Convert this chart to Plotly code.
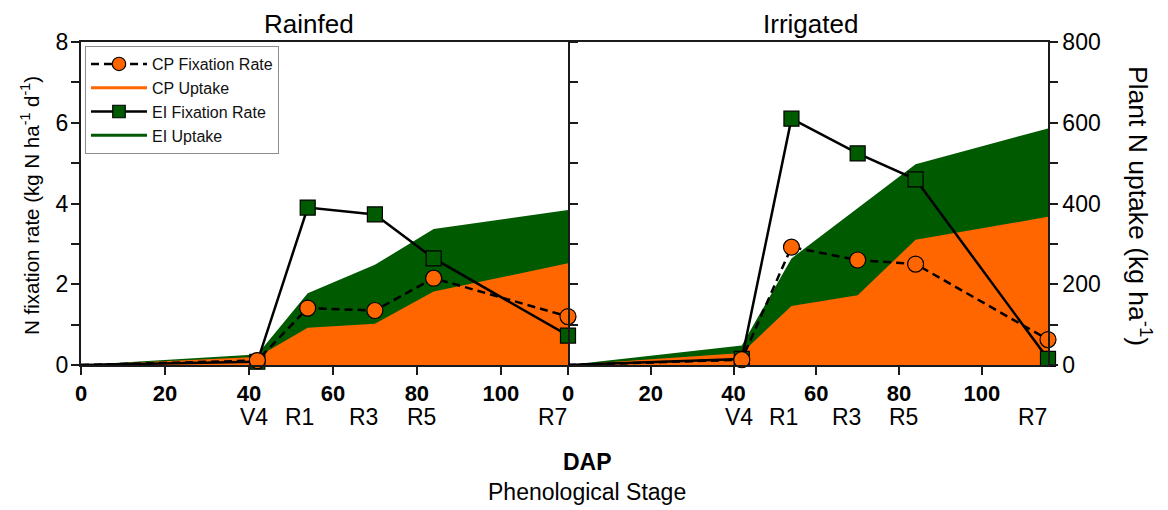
import plotly.graph_objects as go

# Days after planting at each sampling date
dap = [0, 42, 54, 70, 84, 116]
stage_days = [42, 54, 70, 84, 116]
stage_names = ["V4", "R1", "R3", "R5", "R7"]

# Rainfed: fixation rate (kg N ha-1 d-1) and plant N uptake (kg ha-1)
rain_cp_fix = [0, 0.11, 1.41, 1.35, 2.15, 1.20]
rain_ei_fix = [0, 0.08, 3.90, 3.73, 2.64, 0.73]
rain_cp_up = [0, 20, 92, 102, 182, 252]
rain_ei_up = [0, 26, 178, 248, 337, 384]

# Irrigated
irr_cp_fix = [0, 0.13, 2.92, 2.60, 2.50, 0.63]
irr_ei_fix = [0, 0.15, 6.10, 5.24, 4.60, 0.15]
irr_cp_up = [0, 30, 146, 173, 310, 367]
irr_ei_up = [0, 48, 264, 389, 497, 586]

W, H = 1168, 510
FONT = "Liberation Sans, Arial, sans-serif"
ORANGE = "#FF6600"
GREEN = "#005A00"
AX = "#1a1a1a"


def px(x):
    return x / W


def py(y):
    return 1 - y / H


left_dom = [px(81), px(568)]
right_dom = [px(568), px(1048)]
y_dom = [py(365), py(42)]

# no marker on the planting-day point
circle_sizes = [0] + [16] * (len(dap) - 1)
square_sizes = [0] + [15] * (len(dap) - 1)

fig = go.Figure()

# Uptake areas (base axes): EI first, CP drawn over it
for xa, ya, ei_up, cp_up in (("x", "y", rain_ei_up, rain_cp_up),
                              ("x2", "y2", irr_ei_up, irr_cp_up)):
    fig.add_trace(go.Scatter(x=dap, y=ei_up, xaxis=xa, yaxis=ya, mode="lines",
                             line=dict(width=0, color=GREEN), fill="tozeroy",
                             fillcolor=GREEN, showlegend=False, hoverinfo="skip"))
    fig.add_trace(go.Scatter(x=dap, y=cp_up, xaxis=xa, yaxis=ya, mode="lines",
                             line=dict(width=0, color=ORANGE), fill="tozeroy",
                             fillcolor=ORANGE, showlegend=False, hoverinfo="skip"))

# Fixation rates (overlay axes, drawn above the areas)
for i, (xa, ya, ei_fix, cp_fix) in enumerate((("x", "y3", rain_ei_fix, rain_cp_fix),
                                                ("x2", "y4", irr_ei_fix, irr_cp_fix))):
    fig.add_trace(go.Scatter(x=dap, y=ei_fix, xaxis=xa, yaxis=ya, mode="lines+markers",
                             name="EI Fixation Rate", legendrank=3, showlegend=(i == 0),
                             line=dict(color="black", width=2.5),
                             marker=dict(symbol="square", size=square_sizes, color=GREEN,
                                         opacity=1,
                                         line=dict(color="black", width=1.2)),
                             cliponaxis=False))
    fig.add_trace(go.Scatter(x=dap, y=cp_fix, xaxis=xa, yaxis=ya, mode="lines+markers",
                             name="CP Fixation Rate", legendrank=1, showlegend=(i == 0),
                             line=dict(color="black", width=2.5, dash="8px,5px"),
                             marker=dict(symbol="circle", size=circle_sizes, color=ORANGE,
                                         opacity=1,
                                         line=dict(color="black", width=1.2)),
                             cliponaxis=False))

# Legend entries for the uptake areas
fig.add_trace(go.Scatter(x=[None], y=[None], mode="lines", name="CP Uptake",
                         legendrank=2, line=dict(color=ORANGE, width=3)))
fig.add_trace(go.Scatter(x=[None], y=[None], mode="lines", name="EI Uptake",
                         legendrank=4, line=dict(color=GREEN, width=3)))

xtick = dict(tickvals=[0, 20, 40, 60, 80, 100], ticks="outside", ticklen=8,
             tickwidth=1.5, tickcolor=AX, showline=True, linecolor=AX, linewidth=1.5,
             mirror=True, range=[0, 116], showgrid=False, zeroline=False,
             automargin=False,
             tickfont=dict(family=FONT, size=22, color="black", weight="bold"))

up_ticks = list(range(0, 801, 100))
fix_ticks = list(range(0, 9))

fig.update_layout(
    width=W, height=H,
    margin=dict(l=0, r=0, t=0, b=0, autoexpand=False),
    paper_bgcolor="white", plot_bgcolor="white",
    font=dict(family=FONT, color="black"),
    xaxis=dict(domain=left_dom, anchor="y", **xtick),
    xaxis2=dict(domain=right_dom, anchor="y2", **xtick),
    # left panel: uptake base axis carries the frame and ticks
    yaxis=dict(domain=y_dom, anchor="x", range=[0, 800], tickvals=up_ticks,
               showticklabels=False, ticks="outside", ticklen=8, tickwidth=1.5,
               tickcolor=AX, showline=True, linecolor=AX, linewidth=1.5,
               mirror="ticks", showgrid=False, zeroline=False, automargin=False),
    yaxis3=dict(overlaying="y", anchor="x", side="left", range=[0, 8],
                tickvals=fix_ticks,
                ticktext=[str(v) if v % 2 == 0 else " " for v in fix_ticks],
                ticks="outside", ticklen=7, tickwidth=1.5, tickcolor=AX,
                showline=False, showgrid=False, zeroline=False, automargin=False,
                tickfont=dict(family=FONT, size=23, color="black")),
    # right panel: uptake axis on the right
    yaxis2=dict(domain=y_dom, anchor="x2", side="right", range=[0, 800],
                tickvals=up_ticks,
                ticktext=[str(v) if v % 200 == 0 else " " for v in up_ticks],
                ticks="outside", ticklen=8, tickwidth=1.5, tickcolor=AX,
                showline=True, linecolor=AX, linewidth=1.5, mirror=False,
                showgrid=False, zeroline=False, automargin=False,
                tickfont=dict(family=FONT, size=23, color="black")),
    yaxis4=dict(overlaying="y2", anchor="x2", range=[0, 8], visible=False,
                automargin=False),
    legend=dict(x=px(85), y=py(46), xanchor="left", yanchor="top",
                bgcolor="white", bordercolor="#8c8c8c", borderwidth=1,
                font=dict(family=FONT, size=16, color="#111"),
                traceorder="normal", itemwidth=56),
    showlegend=True,
)

ann = [
    dict(text="Rainfed", x=px(309), y=py(24), font_size=26),
    dict(text="Irrigated", x=px(810), y=py(24), font_size=26),
    dict(text="<b>DAP</b>", x=px(587), y=py(462), font_size=23),
    dict(text="Phenological Stage", x=px(587), y=py(492), font_size=23),
    dict(text="N fixation rate (kg N ha<sup>-1</sup> d<sup>-1</sup>)", x=px(30), y=py(206),
         textangle=-90, font_size=20.5),
    dict(text="Plant N uptake (kg ha<sup>-1</sup>)", x=px(1140), y=py(206),
         textangle=90, font_size=26.5),
]
for a in ann:
    fig.add_annotation(xref="paper", yref="paper", showarrow=False,
                       xanchor="center", yanchor="middle",
                       font=dict(family=FONT, size=a.pop("font_size"), color="black"), **a)

# Phenological stage labels under the DAP ticks
label_shift = [-3, -8, -11, -12, -16]
for xa in ("x", "x2"):
    for d, name, s in zip(stage_days, stage_names, label_shift):
        fig.add_annotation(xref=xa, yref="paper", x=d, y=py(417), text=name,
                           showarrow=False, xshift=s, xanchor="center", yanchor="middle",
                           font=dict(family=FONT, size=23, color="black"))

fig.write_html("out.html")
